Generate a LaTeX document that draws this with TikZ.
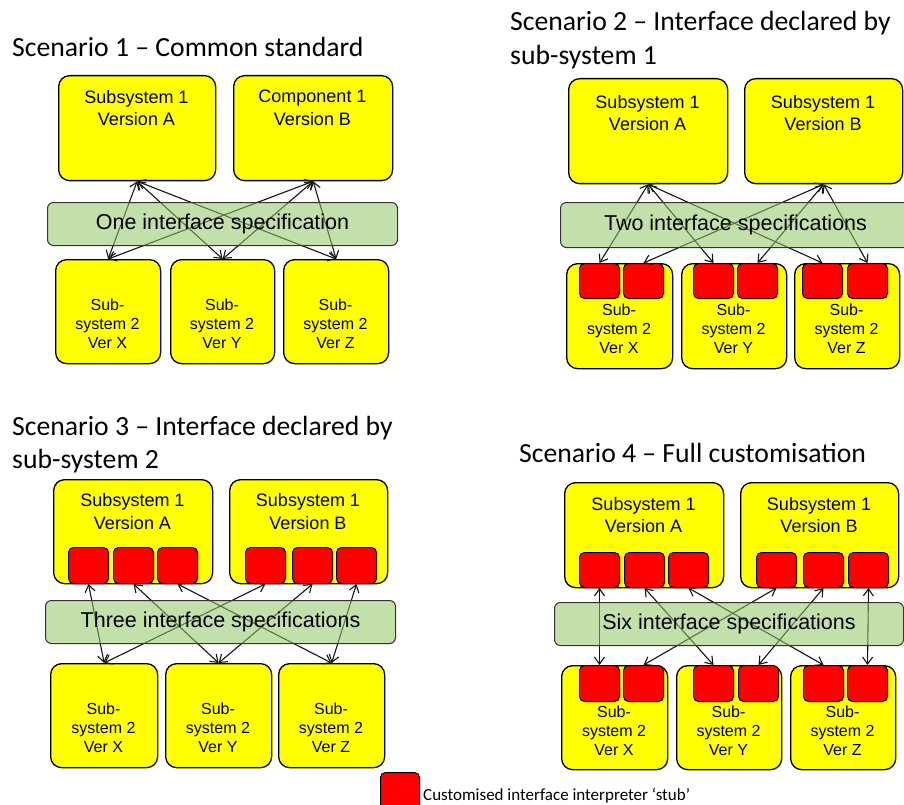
\documentclass[tikz,border=0pt]{standalone}
\usepackage{fontspec}
\setmainfont{Liberation Sans}
\newfontfamily\titlefont{Carlito}
\usetikzlibrary{arrows.meta}
\definecolor{boxyellow}{RGB}{255,255,0}
\definecolor{stubred}{RGB}{255,0,0}
\definecolor{specgreen}{RGB}{148,199,100}
\definecolor{linkgray}{RGB}{20,20,20}
\begin{document}
\begin{tikzpicture}[x=1pt,y=-1pt,
  bigbox/.style={draw=black, fill=boxyellow, line width=1.3pt, rounded corners=11pt,
    inner sep=0pt, anchor=north west},
  stubbox/.style={draw=black, fill=stubred, line width=1pt, rounded corners=5pt,
    minimum width=40pt, minimum height=35pt, inner sep=0pt, anchor=north west},
  specbar/.style={draw=black!80, fill=specgreen, fill opacity=0.55, draw opacity=1,
    text opacity=1, line width=1pt, rounded corners=6pt,
    inner sep=0pt, anchor=north west, minimum height=43pt,
    font=\fontsize{21.5}{24}\selectfont},
  toptext/.style={align=center, inner sep=0pt, font=\fontsize{18}{22.5}\selectfont},
  bottext/.style={align=center, inner sep=0pt, font=\fontsize{16}{19}\selectfont},
  heading/.style={anchor=base west, inner sep=0pt, font=\titlefont\fontsize{27.7}{33}\selectfont},
  link/.style={draw=linkgray, line width=1.1pt,
    {Straight Barb[length=7pt,width=10pt]}-{Straight Barb[length=7pt,width=10pt]}}
]
\useasboundingbox (0,0) rectangle (904,805);
\clip (0,0) rectangle (904,805);

% ---------------- Scenario 1: common standard ----------------
\node[heading] (s1title) at (12,57) {Scenario 1 – Common standard};
\node[bigbox, minimum width=157pt, minimum height=105pt] (s1A) at (58,75) {};
\node[bigbox, minimum width=159pt, minimum height=105pt] (s1B) at (233,75) {};
\node[toptext] (s1At) at (136.5,108) {Subsystem 1\\Version A};
\node[toptext] (s1Bt) at (312.5,108) {Component 1\\Version B};
\node[bigbox, minimum width=105pt, minimum height=104pt] (s1X) at (55,259) {};
\node[bigbox, minimum width=104pt, minimum height=104pt] (s1Y) at (170,259) {};
\node[bigbox, minimum width=105pt, minimum height=104pt] (s1Z) at (283,259) {};
\node[bottext] (s1Xt) at (107.5,324) {Sub-\\system 2\\Ver X};
\node[bottext] (s1Yt) at (222,324) {Sub-\\system 2\\Ver Y};
\node[bottext] (s1Zt) at (335.5,324) {Sub-\\system 2\\Ver Z};
\foreach \t in {s1A,s1B}
  \foreach \b in {s1X,s1Y,s1Z}
    \draw[link] (\t.south) -- (\b.north);
% the translucent specification bar lies over the links
\node[specbar, minimum width=350pt] (s1bar) at (47,202) {One interface specification};

% ---------------- Scenario 2: interface declared by sub-system 1 ----------------
\node[heading] (s2title) at (510,31) {Scenario 2 – Interface declared by};
\node[heading] (s2titleb) at (510,65) {sub-system 1};
\node[bigbox, minimum width=159pt, minimum height=105pt] (s2A) at (568,78) {};
\node[bigbox, minimum width=158pt, minimum height=105pt] (s2B) at (744,78) {};
\node[toptext] (s2At) at (647.5,113) {Subsystem 1\\Version A};
\node[toptext] (s2Bt) at (823,113) {Subsystem 1\\Version B};
\node[bigbox, minimum width=106pt, minimum height=105pt] (s2X) at (566,263) {};
\node[bigbox, minimum width=105pt, minimum height=105pt] (s2Y) at (681,263) {};
\node[bigbox, minimum width=105pt, minimum height=105pt] (s2Z) at (794,263) {};
\node[stubbox] (s2x1) at (579,263) {};
\node[stubbox] (s2x2) at (623,263) {};
\node[stubbox] (s2y1) at (693,263) {};
\node[stubbox] (s2y2) at (737,263) {};
\node[stubbox] (s2z1) at (802,263) {};
\node[stubbox] (s2z2) at (847,263) {};
\node[bottext] (s2Xt) at (619,329) {Sub-\\system 2\\Ver X};
\node[bottext] (s2Yt) at (733.5,329) {Sub-\\system 2\\Ver Y};
\node[bottext] (s2Zt) at (846.5,329) {Sub-\\system 2\\Ver Z};
\foreach \b in {s2x1,s2y1,s2z1} \draw[link] (s2A.south) -- (\b.north);
\foreach \b in {s2x2,s2y2,s2z2} \draw[link] (s2B.south) -- (\b.north);
\node[specbar, minimum width=350pt, minimum height=45pt] (s2bar) at (560,202) {Two interface specifications};

% ---------------- Scenario 3: interface declared by sub-system 2 ----------------
\node[heading] (s3title) at (12,435) {Scenario 3 – Interface declared by};
\node[heading] (s3titleb) at (12,468) {sub-system 2};
\node[bigbox, minimum width=159pt, minimum height=104pt] (s3A) at (53,479) {};
\node[bigbox, minimum width=158pt, minimum height=104pt] (s3B) at (229,479) {};
\node[toptext] (s3At) at (132.5,511.5) {Subsystem 1\\Version A};
\node[toptext] (s3Bt) at (308,511.5) {Subsystem 1\\Version B};
\node[stubbox, minimum height=36pt] (s3a1) at (68,547) {};
\node[stubbox, minimum height=36pt] (s3a2) at (113,547) {};
\node[stubbox, minimum height=36pt] (s3a3) at (157,547) {};
\node[stubbox, minimum height=36pt] (s3b1) at (245,547) {};
\node[stubbox, minimum height=36pt] (s3b2) at (292,547) {};
\node[stubbox, minimum height=36pt] (s3b3) at (336,547) {};
\node[bigbox, minimum width=107pt, minimum height=104pt] (s3X) at (50,663) {};
\node[bigbox, minimum width=106pt, minimum height=104pt] (s3Y) at (165,663) {};
\node[bigbox, minimum width=106pt, minimum height=104pt] (s3Z) at (278,663) {};
\node[bottext] (s3Xt) at (103.5,727.5) {Sub-\\system 2\\Ver X};
\node[bottext] (s3Yt) at (218,727.5) {Sub-\\system 2\\Ver Y};
\node[bottext] (s3Zt) at (331,727.5) {Sub-\\system 2\\Ver Z};
\draw[link] (s3a1.south) -- (s3X.north);
\draw[link] (s3a2.south) -- (s3Y.north);
\draw[link] (s3a3.south) -- (s3Z.north);
\draw[link] (s3b1.south) -- (s3X.north);
\draw[link] (s3b2.south) -- (s3Y.north);
\draw[link] (s3b3.south) -- (s3Z.north);
\node[specbar, minimum width=350pt] (s3bar) at (45,600) {Three interface specifications};

% ---------------- Scenario 4: full customisation ----------------
\node[heading] (s4title) at (519,462) {Scenario 4 – Full customisation};
\node[bigbox, minimum width=159pt, minimum height=105pt] (s4A) at (564,482) {};
\node[bigbox, minimum width=158pt, minimum height=105pt] (s4B) at (740,482) {};
\node[toptext] (s4At) at (643.5,515) {Subsystem 1\\Version A};
\node[toptext] (s4Bt) at (819,515) {Subsystem 1\\Version B};
\node[stubbox] (s4a1) at (579,552) {};
\node[stubbox] (s4a2) at (624,552) {};
\node[stubbox] (s4a3) at (668,552) {};
\node[stubbox] (s4b1) at (756,552) {};
\node[stubbox] (s4b2) at (803,552) {};
\node[stubbox] (s4b3) at (848,552) {};
\node[bigbox, minimum width=106pt, minimum height=104pt] (s4X) at (561,665) {};
\node[bigbox, minimum width=105pt, minimum height=104pt] (s4Y) at (676,665) {};
\node[bigbox, minimum width=105pt, minimum height=104pt] (s4Z) at (790,665) {};
\node[stubbox, minimum height=36pt] (s4x1) at (579,665) {};
\node[stubbox, minimum height=36pt] (s4x2) at (623,665) {};
\node[stubbox, minimum height=36pt] (s4y1) at (693,665) {};
\node[stubbox, minimum height=36pt] (s4y2) at (738,665) {};
\node[stubbox, minimum height=36pt] (s4z1) at (803,665) {};
\node[stubbox, minimum height=36pt] (s4z2) at (847,665) {};
\node[bottext] (s4Xt) at (614,731) {Sub-\\system 2\\Ver X};
\node[bottext] (s4Yt) at (728.5,731) {Sub-\\system 2\\Ver Y};
\node[bottext] (s4Zt) at (842.5,731) {Sub-\\system 2\\Ver Z};
\draw[link] (s4a1.south) -- (s4x1.north);
\draw[link] (s4a2.south) -- (s4y1.north);
\draw[link] (s4a3.south) -- (s4z1.north);
\draw[link] (s4b1.south) -- (s4x2.north);
\draw[link] (s4b2.south) -- (s4y2.north);
\draw[link] (s4b3.south) -- (s4z2.north);
\node[specbar, minimum width=349pt] (s4bar) at (554,602) {Six interface specifications};

% ---------------- Legend ----------------
\node[stubbox, minimum width=39pt, minimum height=40pt] (legstub) at (380,772) {};
\node[anchor=base west, inner sep=0pt, font=\titlefont\fontsize{17}{19}\selectfont] (legtext)
  at (423,800) {Customised interface interpreter ‘stub’};
\end{tikzpicture}
\end{document}
